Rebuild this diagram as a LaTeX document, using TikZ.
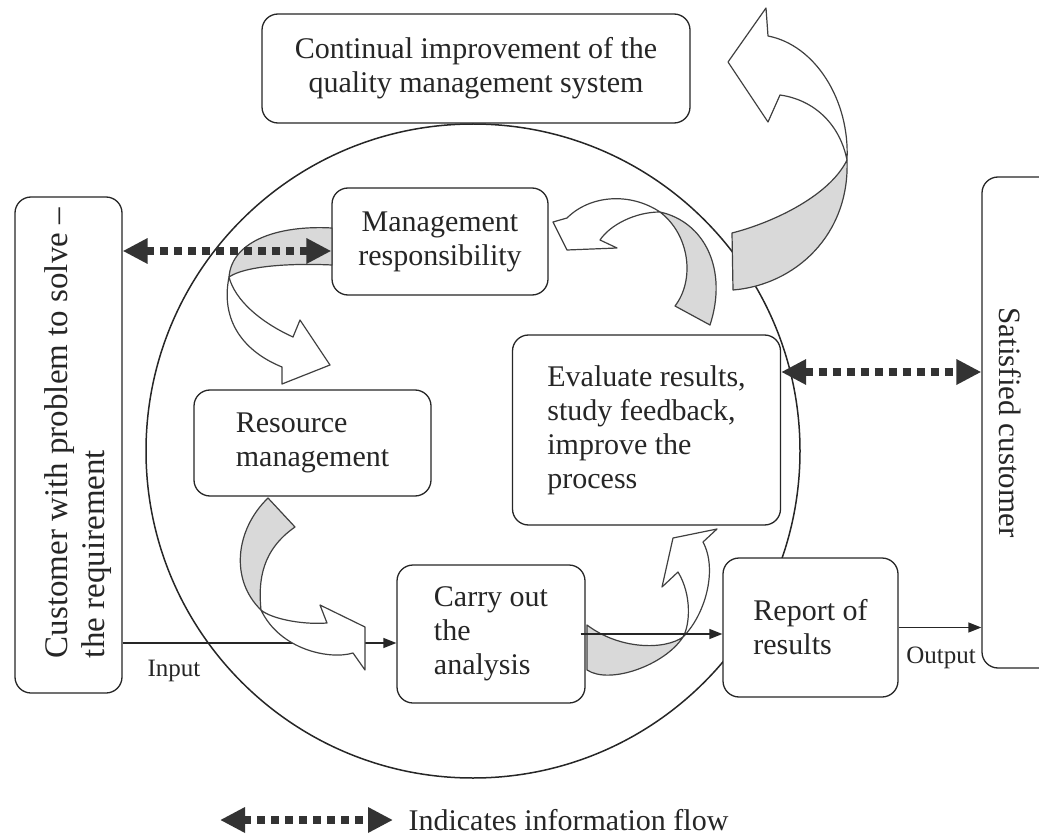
\documentclass[tikz,border=0pt]{standalone}
\usepackage{fontspec}
\setmainfont{Liberation Serif}
\usetikzlibrary{arrows.meta}

\begin{document}
\begin{tikzpicture}[x=1pt,y=-1pt,line join=round,
                    every node/.append style={font=\fontsize{30}{34}\selectfont,text=black!85},
                    box/.style={draw=black!85,line width=1.3pt,rounded corners=16pt,fill=white,inner sep=0pt},
                    flow/.style={-{Triangle[length=13pt,width=10pt]},line width=1.3pt,draw=black!85},
                    info/.style={{Triangle[length=25pt,width=24pt]}-{Triangle[length=25pt,width=24pt]},
                                 line width=8pt,dash pattern=on 8pt off 6pt,draw=black!80},
                    band/.style={draw=black!75,line width=1.2pt,fill=white},
                    back/.style={band,fill=black!15},
                    lbl/.style={font=\fontsize{25}{28}\selectfont}]
\useasboundingbox (0,0) rectangle (1039,837);

\draw[line width=1.5pt,black!85] (473,451) circle[radius=327];

\node[box,align=center,minimum width=428pt,minimum height=109pt] (cont) at (476,68.5) {Continual improvement of the\\quality management system};
\node[box,align=center,minimum width=216pt,minimum height=107pt] (mgmt) at (440,241.5) {Management\\responsibility};
\node[box,align=left,minimum width=237pt,minimum height=106pt] (res) at (312.5,443) {Resource\\management};
\node[box,align=left,minimum width=268pt,minimum height=190pt] (eval) at (646.5,430) {Evaluate results,\\study feedback,\\improve the\\process};
\node[box,align=left,minimum width=188pt,minimum height=138pt] (cao) at (491,634) {Carry out\\the\\analysis};
\node[box,align=left,minimum width=175pt,minimum height=139pt] (rep) at (810.5,627.5) {Report of\\results};
\node[box,minimum width=107pt,minimum height=496pt] (cust) at (68.5,445) {};
\node[rotate=90,align=left,font=\fontsize{33}{37}\selectfont] (custtxt) at (78,433) {Customer with problem to solve --\\the requirement};
\node[box,minimum width=120pt,minimum height=491pt] (sat) at (1042,422.5) {};
\node[rotate=-90,font=\fontsize{31}{35}\selectfont] (sattxt) at (1010,422.5) {Satisfied customer};

\coordinate (inp) at ([yshift=-9pt]cao.west);
\draw[flow] (cust.east |- inp) -- (inp);

\draw[back] (732,233) .. controls (775,222) and (830,195) .. (847,160) .. controls (850,235) and (795,285) .. (733,290) -- cycle;
\draw[band] (847,160) .. controls (840,125) and (815,100) .. (780,95) -- (768,122) -- (728,62) -- (766,8) -- (768,36) .. controls (815,45) and (850,100) .. (847,160) -- cycle;

\draw[back] (660,212) .. controls (705,222) and (728,270) .. (710,325) -- (675,306) .. controls (695,280) and (690,235) .. (660,212) -- cycle;
\draw[band] (660,212) .. controls (630,192) and (590,195) .. (567,218) -- (553,222) -- (567,250) -- (617,248) -- (600,240) .. controls (610,225) and (635,212) .. (660,212) -- cycle;

\draw[back] (332,228) .. controls (280,225) and (232,240) .. (229,277) .. controls (245,266) and (290,263) .. (332,265) -- cycle;
\draw[band] (229,277) .. controls (220,322) and (245,352) .. (282,367) -- (282,384) -- (330,365) -- (300,320) -- (293,337) .. controls (260,322) and (235,300) .. (229,277) -- cycle;

\draw[back] (268,498) .. controls (235,530) and (230,580) .. (261,610) .. controls (258,580) and (262,550) .. (295,527) -- cycle;
\draw[band] (261,610) .. controls (280,650) and (330,660) .. (353,653) -- (365,670) -- (365,627) -- (320,605) -- (327,623) .. controls (300,625) and (270,618) .. (261,610) -- cycle;

\draw[back] (587,625) .. controls (620,650) and (665,650) .. (683,637) .. controls (665,665) and (610,685) .. (587,670) -- cycle;
\draw[band] (683,637) .. controls (705,615) and (718,570) .. (703,542) -- (717,529) -- (673,538) -- (662,587) -- (678,572) .. controls (692,595) and (690,625) .. (683,637) -- cycle;

\draw[flow] ([xshift=-5pt]cao.east) -- (cao.east -| rep.west);
\draw[flow] (rep.east) -- (rep.east -| sat.west);

\coordinate (mi) at ([yshift=-9.5pt]mgmt.west);
\draw[info] (cust.east |- mi) -- (mi);
\coordinate (ei) at ([yshift=58pt]eval.east);
\draw[info] (ei) -- (ei -| sat.west);

\node[lbl,anchor=north west] (inlbl) at (144,657) {Input};
\node[lbl] (outlbl) at (941,658) {Output};

\coordinate (legs) at (220,820);
\node[anchor=west] (leg) at (405,820) {Indicates information flow};
\draw[info] (legs) -- ([xshift=-12pt]leg.west);

\end{tikzpicture}
\end{document}
